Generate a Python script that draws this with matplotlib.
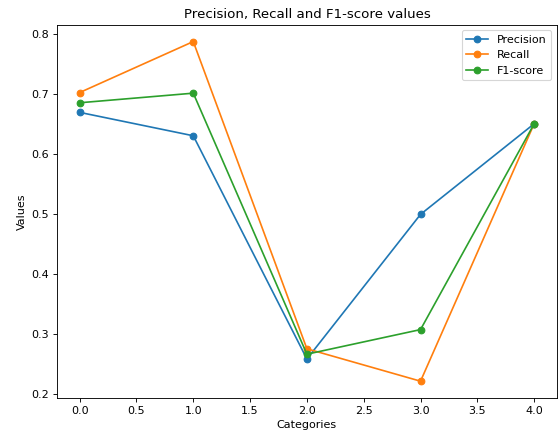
import matplotlib
matplotlib.use("Agg")
import matplotlib.pyplot as plt

categories = [0, 1, 2, 3, 4]
precision = [0.670, 0.631, 0.259, 0.500, 0.651]
recall = [0.703, 0.788, 0.276, 0.222, 0.651]
f1_score = [0.686, 0.702, 0.267, 0.308, 0.651]

fig, ax = plt.subplots(figsize=(6.975, 5.4875), dpi=80)
fig.subplots_adjust(left=0.102, right=0.998, top=0.944, bottom=0.093)

ax.plot(categories, precision, marker="o", label="Precision")
ax.plot(categories, recall, marker="o", label="Recall")
ax.plot(categories, f1_score, marker="o", label="F1-score")

ax.set_title("Precision, Recall and F1-score values")
ax.set_xlabel("Categories")
ax.set_ylabel("Values")
ax.legend(loc="upper right")

plt.savefig("out.png", dpi=80)
